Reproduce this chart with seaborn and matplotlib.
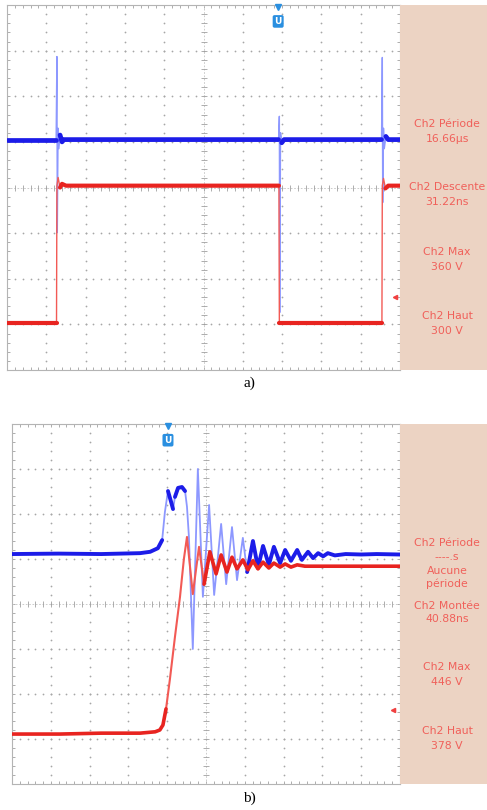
import numpy as np
import pandas as pd
import matplotlib
matplotlib.use("Agg")
import matplotlib.pyplot as plt
import seaborn as sns

sns.set_theme(style="white")
plt.rcParams['font.family'] = ['DejaVu Sans']

# ---- capture a) : time and voltage in screen divisions ----
a_red_t = [0.0, 1.26, 1.27, 1.30, 1.35, 1.40, 1.50, 6.92, 6.93, 9.54, 9.55, 9.58, 9.63, 9.70, 10.0]
a_red_v = [-2.96, -2.96, 0.04, 0.22, 0.00, 0.08, 0.04, 0.04, -2.96, -2.96, 0.04, 0.20, -0.02, 0.04, 0.04]

a_blue_t = [0.0, 1.25, 1.27, 1.28, 1.30, 1.32, 1.35, 1.40, 1.45, 6.91, 6.93, 6.94, 6.96,
            6.99, 7.05, 9.53, 9.55, 9.56, 9.58, 9.60, 9.64, 9.70, 10.0]
a_blue_v = [1.05, 1.05, 2.87, -0.99, 1.30, 0.85, 1.15, 1.00, 1.05, 1.05, 1.56, -2.74, 1.20,
            0.98, 1.05, 1.05, 2.85, -0.33, 1.30, 0.85, 1.12, 1.05, 1.05]

a_readout = ["Ch2 Période", "16.66µs", "Ch2 Descente", "31.22ns",
             "Ch2 Max", "360 V", "Ch2 Haut", "300 V"]

# ---- capture b) ----
b_blue_t = [0.0, 1.2, 2.3, 3.3, 3.56, 3.76, 3.87, 3.94, 4.02, 4.10, 4.15, 4.20, 4.28, 4.38,
            4.46, 4.51, 4.56, 4.66, 4.79, 4.92, 5.08, 5.21, 5.39, 5.52, 5.67, 5.80, 5.95,
            6.06, 6.21, 6.34, 6.47, 6.62, 6.75, 6.91, 7.04, 7.19, 7.35, 7.47, 7.63, 7.76,
            7.89, 8.02, 8.14, 8.32, 8.6, 9.0, 9.4, 10.0]
b_blue_v = [1.11, 1.12, 1.11, 1.13, 1.16, 1.24, 1.42, 2.04, 2.51, 2.27, 2.11, 2.38, 2.58, 2.60,
            2.51, 2.16, 1.49, -1.00, 3.00, 0.16, 2.20, 0.20, 1.78, 0.44, 1.71, 0.53, 1.47,
            0.71, 1.40, 0.80, 1.29, 0.87, 1.27, 0.91, 1.20, 0.96, 1.20, 0.98, 1.16, 1.02,
            1.13, 1.06, 1.13, 1.08, 1.11, 1.10, 1.11, 1.10]

b_red_t = [0.0, 1.24, 2.3, 3.3, 3.69, 3.81, 3.89, 3.97, 4.07, 4.20, 4.33, 4.43, 4.51, 4.66,
           4.82, 4.95, 5.10, 5.26, 5.39, 5.54, 5.67, 5.80, 5.95, 6.08, 6.21, 6.34, 6.47,
           6.62, 6.75, 6.91, 7.04, 7.19, 7.35, 7.55, 7.94, 10.0]
b_red_v = [-2.89, -2.89, -2.87, -2.87, -2.84, -2.80, -2.69, -2.33, -1.67, -0.73, 0.16, 1.00,
           1.49, 0.22, 1.27, 0.44, 1.16, 0.67, 1.09, 0.71, 1.04, 0.78, 0.98, 0.76, 0.96,
           0.78, 0.93, 0.80, 0.91, 0.82, 0.89, 0.82, 0.87, 0.84, 0.84, 0.84]

b_readout = ["Ch2 Période", "----.s", "Aucune", "période", "Ch2 Montée", "40.88ns",
             "Ch2 Max", "446 V", "Ch2 Haut", "378 V"]

W, H = 487, 810
fig = plt.figure(figsize=(W / 100, H / 100), dpi=100)
fig.patch.set_facecolor('white')


def px_axes(x0, y0, x1, y1):
    return fig.add_axes([x0 / W, 1 - y1 / H, (x1 - x0) / W, (y1 - y0) / H])


def scope_grid(ax):
    ax.set_xlim(0, 10)
    ax.set_ylim(-4, 4)
    ax.set_facecolor('white')
    fx = np.arange(0, 10.01, 0.2)
    fy = np.arange(-4, 4.01, 0.2)
    for gx in range(1, 10):
        if gx != 5:
            ax.scatter(np.full_like(fy, gx), fy, s=1.6, color='#a6a6a6', lw=0, zorder=1)
    for gy in range(-3, 4):
        if gy != 0:
            ax.scatter(fx, np.full_like(fx, gy), s=1.6, color='#a6a6a6', lw=0, zorder=1)
    # centre cross with fine graduations
    ax.axhline(0, color='#c4c4c4', lw=0.6, ls=(0, (2, 2)), zorder=1)
    ax.axvline(5, color='#c4c4c4', lw=0.6, ls=(0, (2, 2)), zorder=1)
    ax.scatter(fx, np.zeros_like(fx), marker='|', s=14, color='#a0a0a0', lw=0.6, zorder=1)
    ax.scatter(np.full_like(fy, 5), fy, marker='_', s=14, color='#a0a0a0', lw=0.6, zorder=1)
    ax.set_xticks(fx)
    ax.set_yticks(fy)
    ax.tick_params(direction='in', length=2.5, width=0.6, color='#a0a0a0',
                   bottom=True, top=True, left=True, right=True,
                   labelbottom=False, labelleft=False)
    for s in ax.spines.values():
        s.set_color('#b4b4b4')
        s.set_linewidth(0.8)


def flat_runs(t, v, sx, sy, limit):
    # keeps the slow parts of a trace; fast edges are drawn thin like on the scope
    t = np.asarray(t, float)
    v = np.asarray(v, float)
    slope = np.abs(np.diff(v) * sy) / np.maximum(np.abs(np.diff(t)) * sx, 1e-9)
    rows, run, prev = [], 0, False
    for i, s in enumerate(slope):
        flat = s <= limit
        if flat:
            if not prev:
                run += 1
                rows.append((t[i], v[i], run))
            rows.append((t[i + 1], v[i + 1], run))
        prev = flat
    return pd.DataFrame(rows, columns=['t', 'v', 'seg'])


def trace(ax, t, v, sx, sy, col, thin_col, lw, thin_lw, z, limit=4.0):
    sns.lineplot(x=t, y=v, sort=False, estimator=None, color=thin_col, lw=thin_lw,
                 ax=ax, zorder=z, solid_joinstyle='round', solid_capstyle='round')
    df = flat_runs(t, v, sx, sy, limit)
    sns.lineplot(data=df, x='t', y='v', units='seg', estimator=None, sort=False,
                 color=col, lw=lw, ax=ax, zorder=z + 1,
                 solid_joinstyle='round', solid_capstyle='round')


def trigger_icon(ax, x):
    ax.plot([x], [3.95], marker='v', ms=4.5, color='#2a8fe0', clip_on=False, zorder=6)
    ax.text(x, 3.64, 'U', color='white', fontsize=6.5, fontweight='bold', ha='center',
            va='center', zorder=6,
            bbox=dict(boxstyle='round,pad=0.2', fc='#2a8fe0', ec='none'))


def side_panel(x0, y0, x1, y1, lines, ys):
    side = px_axes(x0, y0, x1, y1)
    side.set_facecolor('#ecd3c3')
    side.set_xticks([])
    side.set_yticks([])
    for s in side.spines.values():
        s.set_visible(False)
    for txt, yp in zip(lines, ys):
        fig.text(447 / W, 1 - yp / H, txt, color='#f0605a', fontsize=7.8,
                 ha='center', va='center')


blue, blue_thin = '#1c1ce8', '#8d98ff'
red, red_thin = '#e82420', '#f25a55'

# capture a)
ax1 = px_axes(7, 5, 400, 370)
scope_grid(ax1)
trace(ax1, a_blue_t, a_blue_v, 39.3, 45.6, blue, blue_thin, 3.4, 1.0, 3)
trace(ax1, a_red_t, a_red_v, 39.3, 45.6, red, red_thin, 3.0, 1.0, 3)
trigger_icon(ax1, 6.9)
ax1.plot([9.87], [-2.39], marker='<', ms=3, color='#f04040', zorder=6)
ax1.set_xlabel('')
ax1.set_ylabel('')
side_panel(400, 5, 487, 370, a_readout, [124, 139, 187, 202, 252, 267, 316, 331])
fig.text(249 / W, 1 - 383 / H, 'a)', fontsize=11, family='Liberation Serif',
         ha='center', va='center', color='black')

# capture b)
ax2 = px_axes(12, 424, 400, 784)
scope_grid(ax2)
trace(ax2, b_blue_t, b_blue_v, 38.8, 45.0, blue, blue_thin, 2.8, 1.3, 3, limit=6.0)
trace(ax2, b_red_t, b_red_v, 38.8, 45.0, red, red_thin, 2.6, 1.5, 3, limit=6.0)
trigger_icon(ax2, 4.02)
ax2.plot([9.82], [-2.36], marker='<', ms=3, color='#f04040', zorder=6)
ax2.set_xlabel('')
ax2.set_ylabel('')
side_panel(400, 424, 487, 784, b_readout, [543, 557, 571, 584, 606, 619, 667, 682, 731, 746])
fig.text(249 / W, 1 - 798 / H, 'b)', fontsize=11, family='Liberation Serif',
         ha='center', va='center', color='black')

fig.savefig('out.png', dpi=100)
